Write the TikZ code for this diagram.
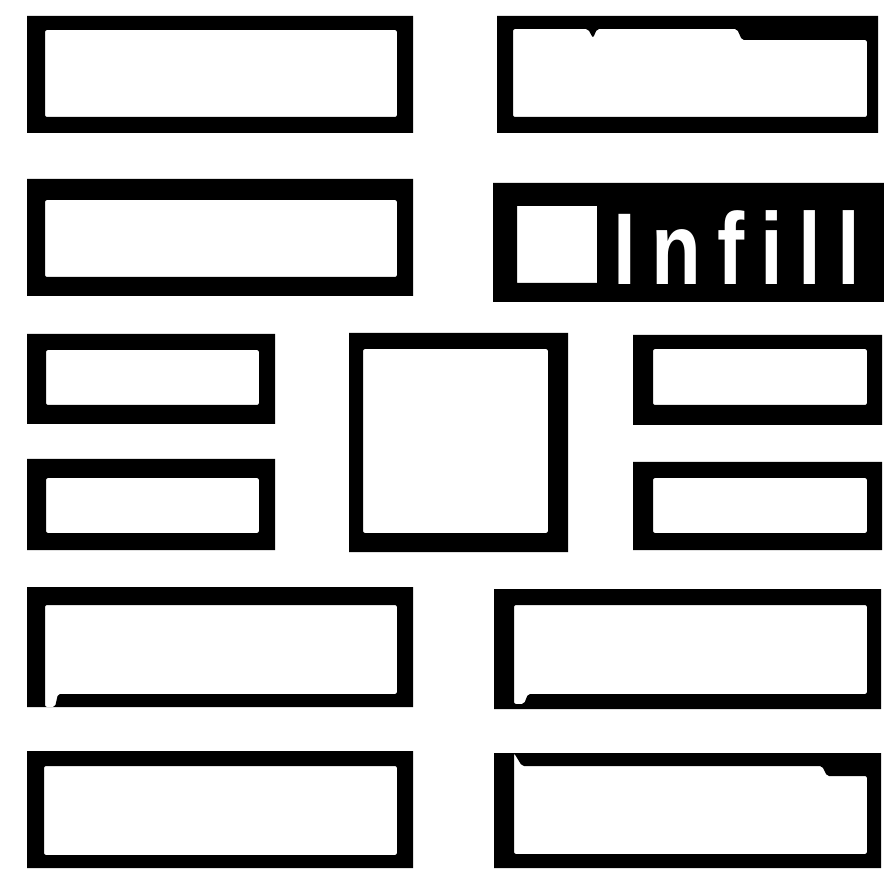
\documentclass[tikz,border=0pt]{standalone}
\usepackage{fontspec}
\newfontfamily\infillfont[FakeStretch=0.8,LetterSpace=15.5]{Liberation Sans Bold}
\begin{document}
\begin{tikzpicture}[x=1pt,y=-1pt,
  frame/.style={fill=black,even odd rule},
  label/.style={text=white,inner sep=0pt,anchor=base west,font=\infillfont\fontsize{102}{102}\selectfont}]
\useasboundingbox (0,0) rectangle (884,874);
% row 1
\fill[frame] (27,16) rectangle (413,133) [rounded corners=2] (45,30) rectangle (397,117);
\fill[frame] (497,16) rectangle (878,133)
  [rounded corners=2] (513,29) -- (588,29) -- (593,38) -- (597,29) -- (737,29) -- (742,40) -- (867,40) -- (867,117) -- (513,117) -- cycle;
% row 2
\fill[frame] (27,179) rectangle (413,296) [rounded corners=2] (45,200) rectangle (397,277);
\fill[frame] (493,183) rectangle (884,302) (517,206) rectangle (597,283);
\node[label] (infill) at (613,285) {Infill};
% rows 3-4
\fill[frame] (27,334) rectangle (275,424) [rounded corners=2] (46,350) rectangle (259,405);
\fill[frame] (27,459) rectangle (275,550) [rounded corners=2] (46,478) rectangle (259,533);
\fill[frame] (349,333) rectangle (568,552) [rounded corners=2] (363,349) rectangle (548,533);
\fill[frame] (633,335) rectangle (882,425) [rounded corners=2] (653,349) rectangle (867,405);
\fill[frame] (633,462) rectangle (882,550) [rounded corners=2] (653,478) rectangle (867,533);
% row 5
\fill[frame] (27,587) rectangle (413,707)
  [rounded corners=2] (45,605) -- (397,605) -- (397,694) -- (58,694) -- (55,707) -- (45,707) -- cycle;
\fill[frame] (494,589) rectangle (881,709)
  [rounded corners=2] (514,605) -- (867,605) -- (867,694) -- (528,694) -- (524,704) -- (514,704) -- cycle;
% row 6
\fill[frame] (27,751) rectangle (413,868) [rounded corners=2] (44,766) rectangle (397,855);
\fill[frame] (494,753) rectangle (881,868)
  [rounded corners=2] (514,753) -- (522,766) -- (822,766) -- (827,776) -- (867,776) -- (867,854) -- (514,854) -- cycle;
\end{tikzpicture}
\end{document}
